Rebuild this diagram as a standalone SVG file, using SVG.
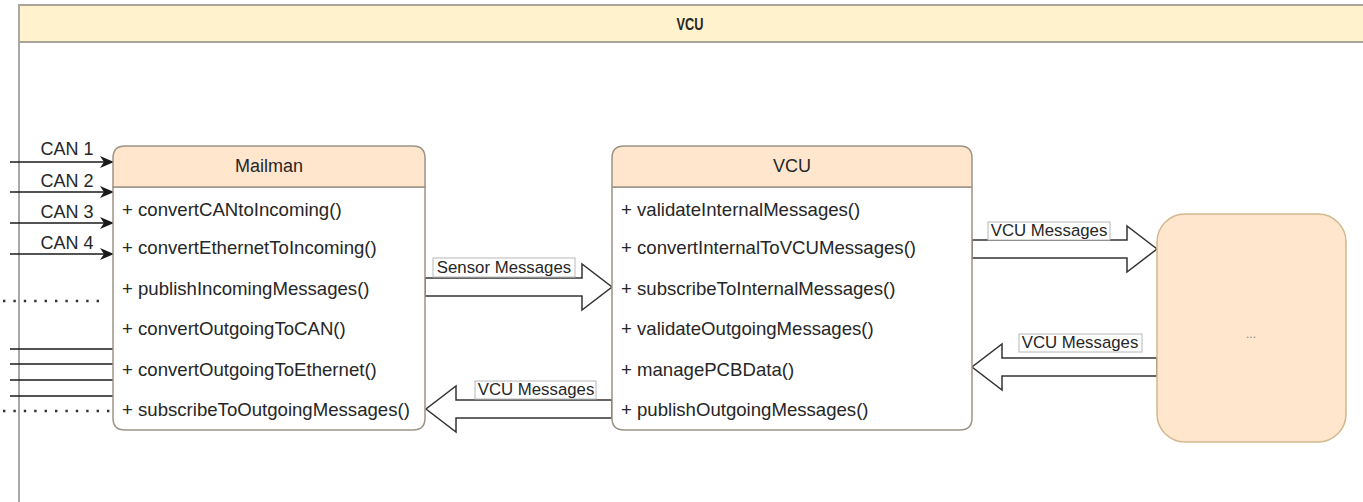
<svg xmlns="http://www.w3.org/2000/svg" width="1363" height="502" viewBox="0 0 1363 502">
  <style>
    .txt { font-family: "Liberation Sans", Arial, sans-serif; fill: #262626; }
    .row { font-size: 18.6px; }
    .title { font-size: 18px; text-anchor: middle; }
    .can { font-size: 18px; text-anchor: middle; }
    .lbl { font-size: 16.8px; text-anchor: middle; }
    .classbox { fill: #ffffff; stroke: #9c9486; stroke-width: 1.5; }
    .classhead { fill: #ffe6cc; stroke: #9c9486; stroke-width: 1.5; }
    .flex { fill: #ffffff; stroke: #333333; stroke-width: 1.5; stroke-linejoin: miter; }
    .lblbox { fill: #ffffff; stroke: #b8b8b8; stroke-width: 1; }
    .wire { stroke: #1a1a1a; stroke-width: 1.6; fill: none; }
    .dots { stroke: #333333; stroke-width: 2.4; fill: none; stroke-dasharray: 2.4 8; }
  </style>
  <defs>
    <marker id="arrowhead" markerWidth="14" markerHeight="12" refX="13" refY="6" orient="auto" markerUnits="userSpaceOnUse">
      <path d="M0,0 L14,6 L0,12 L4,6 Z" fill="#1a1a1a"/>
    </marker>
  </defs>

  <rect width="1363" height="502" fill="#ffffff"/>

  <!-- pool container -->
  <g id="pool">
    <rect x="19" y="5" width="1360" height="37" fill="#fff2cc" stroke="#a8a49a" stroke-width="2"/>
    <line x1="19" y1="5" x2="19" y2="502" stroke="#a8a8a8" stroke-width="2"/>
    <text class="txt" x="690" y="30" font-size="17" font-weight="bold" text-anchor="middle" textLength="27" lengthAdjust="spacingAndGlyphs">VCU</text>
  </g>

  <!-- connectors -->
  <g id="connectors">
    <!-- CAN inputs -->
    <line class="wire" x1="10" y1="162" x2="113" y2="162" marker-end="url(#arrowhead)"/>
    <line class="wire" x1="10" y1="192" x2="113" y2="192" marker-end="url(#arrowhead)"/>
    <line class="wire" x1="10" y1="223" x2="113" y2="223" marker-end="url(#arrowhead)"/>
    <line class="wire" x1="10" y1="254" x2="113" y2="254" marker-end="url(#arrowhead)"/>
    <text class="txt can" x="67" y="155">CAN 1</text>
    <text class="txt can" x="67" y="187">CAN 2</text>
    <text class="txt can" x="67" y="218">CAN 3</text>
    <text class="txt can" x="67" y="249">CAN 4</text>

    <!-- dotted links -->
    <line class="dots" x1="3" y1="301" x2="104" y2="301"/>
    <line class="dots" x1="3" y1="411" x2="113" y2="411"/>

    <!-- outgoing lines -->
    <line class="wire" x1="10" y1="349" x2="113" y2="349"/>
    <line class="wire" x1="10" y1="364" x2="113" y2="364"/>
    <line class="wire" x1="10" y1="380" x2="113" y2="380"/>
    <line class="wire" x1="10" y1="396" x2="113" y2="396"/>

    <!-- Mailman -> VCU -->
    <path class="flex" d="M425,278 L582,278 L582,264 L612,287 L582,310 L582,296 L425,296 Z"/>
    <rect class="lblbox" x="433" y="258" width="142" height="19"/>
    <text class="txt lbl" x="504" y="273">Sensor Messages</text>

    <!-- VCU -> Mailman -->
    <path class="flex" d="M612,400 L456,400 L456,386 L426,409 L456,432 L456,418 L612,418 Z"/>
    <rect class="lblbox" x="475" y="381" width="121" height="18"/>
    <text class="txt lbl" x="536" y="395">VCU Messages</text>

    <!-- VCU -> peer -->
    <path class="flex" d="M972,240 L1127,240 L1127,226 L1157,249 L1127,272 L1127,258 L972,258 Z"/>
    <rect class="lblbox" x="988" y="222" width="122" height="18"/>
    <text class="txt lbl" x="1049" y="236">VCU Messages</text>

    <!-- peer -> VCU -->
    <path class="flex" d="M1157,358 L1002,358 L1002,344 L972,367 L1002,390 L1002,376 L1157,376 Z"/>
    <rect class="lblbox" x="1019" y="334" width="123" height="18"/>
    <text class="txt lbl" x="1080" y="348">VCU Messages</text>
  </g>

  <!-- Mailman class -->
  <g id="mailman">
    <path class="classbox" d="M113,187 L425,187 L425,418 Q425,430 413,430 L125,430 Q113,430 113,418 Z"/>
    <path class="classhead" d="M113,187 L113,158 Q113,146 125,146 L413,146 Q425,146 425,158 L425,187 Z"/>
    <text class="txt title" x="269" y="172">Mailman</text>
    <text class="txt row" x="122" y="216">+ convertCANtoIncoming()</text>
    <text class="txt row" x="122" y="254">+ convertEthernetToIncoming()</text>
    <text class="txt row" x="122" y="295">+ publishIncomingMessages()</text>
    <text class="txt row" x="122" y="335">+ convertOutgoingToCAN()</text>
    <text class="txt row" x="122" y="376">+ convertOutgoingToEthernet()</text>
    <text class="txt row" x="122" y="416">+ subscribeToOutgoingMessages()</text>
  </g>

  <!-- VCU class -->
  <g id="vcu">
    <path class="classbox" d="M612,187 L972,187 L972,418 Q972,430 960,430 L624,430 Q612,430 612,418 Z"/>
    <path class="classhead" d="M612,187 L612,158 Q612,146 624,146 L960,146 Q972,146 972,158 L972,187 Z"/>
    <text class="txt title" x="792" y="172">VCU</text>
    <text class="txt row" x="621" y="216">+ validateInternalMessages()</text>
    <text class="txt row" x="621" y="254">+ convertInternalToVCUMessages()</text>
    <text class="txt row" x="621" y="295">+ subscribeToInternalMessages()</text>
    <text class="txt row" x="621" y="335">+ validateOutgoingMessages()</text>
    <text class="txt row" x="621" y="376">+ managePCBData()</text>
    <text class="txt row" x="621" y="416">+ publishOutgoingMessages()</text>
  </g>

  <!-- peer component -->
  <g id="peer">
    <rect x="1157" y="214" width="189" height="228" rx="28" ry="28" fill="#ffe6cc" stroke="#d2b98f" stroke-width="1.5"/>
    <text class="txt" x="1251" y="338" font-size="12" text-anchor="middle" style="fill:#8a8a8a">...</text>
  </g>
</svg>
